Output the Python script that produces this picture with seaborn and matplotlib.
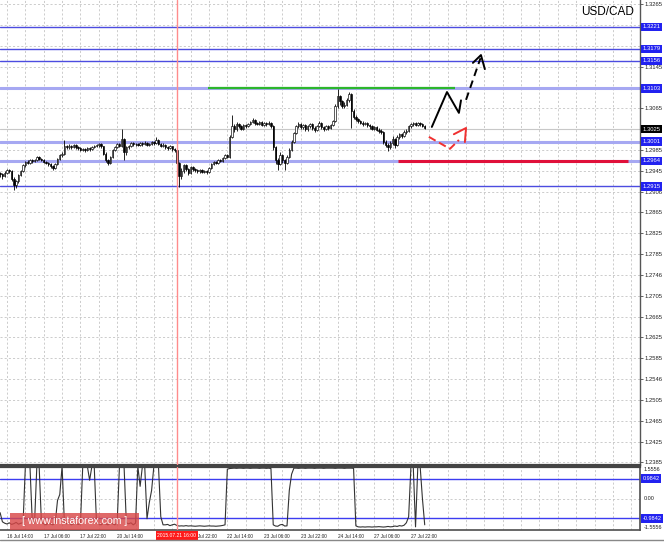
import numpy as np
import matplotlib
matplotlib.use("Agg")
import matplotlib.pyplot as plt
import matplotlib.transforms as mtransforms
from matplotlib.lines import Line2D
from matplotlib.patches import Rectangle
import seaborn as sns

sns.set_theme(style="white")
plt.rcParams['font.family'] = ['Liberation Sans', 'DejaVu Sans']

# USD/CAD H1 quotes, last four digits: 2938 -> 1.2938
first_open = 2940
close = [2938, 2935, 2940, 2946, 2944, 2930, 2918, 2925, 2936, 2945, 2955, 2962, 2960, 2965, 2963, 2966,
         2972, 2968, 2966, 2962, 2960, 2957, 2954, 2950, 2958, 2968, 2975, 2978, 2992, 2990, 2993, 2990,
         2994, 2990, 2988, 2985, 2987, 2984, 2988, 2986, 2990, 2992, 2994, 2996, 2992, 2978, 2965, 2960,
         2972, 2985, 2990, 2996, 2993, 3005, 2980, 2990, 2992, 2998, 2996, 2997, 2995, 2998, 2996, 2999,
         2995, 2997, 3000, 2998, 3003, 2997, 2993, 2995, 2990, 2988, 2992, 2986, 2984, 2960, 2935, 2945,
         2955, 2948, 2940, 2952, 2948, 2946, 2944, 2946, 2943, 2945, 2942, 2950, 2958, 2962, 2960, 2966,
         2964, 2970, 2975, 2972, 3010, 3030, 3025, 3035, 3030, 3026, 3032, 3030, 3034, 3038, 3042, 3036,
         3035, 3038, 3033, 3036, 3034, 3037, 3030, 2990, 2965, 2958, 2975, 2965, 2960, 2972, 2985, 3000,
         3018, 3030, 3035, 3028, 3032, 3025, 3030, 3034, 3027, 3024, 3030, 3036, 3028, 3025, 3030, 3027,
         3032, 3040, 3070, 3088, 3078, 3070, 3072, 3080, 3092, 3060, 3048, 3045, 3040, 3037, 3035, 3036,
         3032, 3030, 3026, 3028, 3024, 3022, 3020, 3000, 2995, 2990, 2998, 3005, 2995, 3010, 3015, 3012,
         3020, 3022, 3030, 3034, 3036, 3033, 3036, 3034, 3031, 3027]
high = [2943, 2940, 2944, 2949, 2948, 2946, 2932, 2928, 2938, 2947, 2957, 2964, 2965, 2967, 2967, 2968,
        2974, 2973, 2970, 2968, 2964, 2962, 2959, 2956, 2960, 2970, 2977, 2981, 3003, 2995, 2996, 2995,
        2996, 2996, 2992, 2990, 2989, 2989, 2990, 2990, 2992, 2994, 2997, 2999, 2998, 2993, 2980, 2967,
        2974, 2987, 2992, 2998, 2999, 3025, 3008, 2993, 2995, 3000, 3000, 2999, 2999, 3000, 3000, 3002,
        3001, 2999, 3002, 3002, 3010, 3005, 2999, 2998, 2997, 2992, 2994, 2993, 2988, 2986, 2962, 2950,
        2958, 2957, 2950, 2954, 2954, 2950, 2948, 2948, 2948, 2947, 2947, 2952, 2960, 2964, 2964, 2968,
        2968, 2972, 2977, 2977, 3013, 3052, 3034, 3038, 3037, 3032, 3035, 3034, 3037, 3040, 3046, 3044,
        3039, 3041, 3040, 3039, 3038, 3040, 3039, 3032, 2993, 2970, 2980, 2978, 2968, 2976, 2988, 3003,
        3020, 3033, 3038, 3037, 3035, 3034, 3033, 3037, 3036, 3030, 3032, 3041, 3038, 3031, 3033, 3032,
        3035, 3043, 3074, 3102, 3090, 3081, 3076, 3084, 3097, 3094, 3063, 3051, 3047, 3043, 3040, 3039,
        3038, 3034, 3032, 3031, 3030, 3027, 3025, 3022, 3003, 2998, 3002, 3012, 3008, 3013, 3018, 3018,
        3023, 3025, 3033, 3037, 3039, 3038, 3038, 3038, 3036, 3033]
low = [2933, 2930, 2933, 2938, 2940, 2926, 2908, 2912, 2922, 2934, 2942, 2952, 2957, 2958, 2960, 2961,
       2964, 2966, 2963, 2959, 2957, 2954, 2951, 2947, 2948, 2956, 2965, 2972, 2976, 2986, 2987, 2987,
       2988, 2987, 2985, 2982, 2982, 2981, 2982, 2983, 2984, 2988, 2990, 2991, 2989, 2975, 2962, 2955,
       2958, 2970, 2982, 2988, 2990, 2990, 2965, 2976, 2987, 2990, 2993, 2993, 2992, 2993, 2993, 2994,
       2992, 2993, 2994, 2995, 2996, 2994, 2990, 2990, 2987, 2985, 2986, 2983, 2980, 2955, 2914, 2930,
       2940, 2944, 2936, 2938, 2945, 2943, 2941, 2941, 2940, 2940, 2939, 2940, 2948, 2955, 2957, 2958,
       2961, 2962, 2967, 2969, 2970, 3008, 3020, 3022, 3027, 3023, 3024, 3027, 3028, 3032, 3036, 3033,
       3032, 3033, 3030, 3031, 3031, 3032, 3027, 2985, 2958, 2946, 2955, 2960, 2947, 2957, 2970, 2982,
       2998, 3015, 3027, 3025, 3025, 3022, 3022, 3027, 3024, 3020, 3021, 3028, 3025, 3022, 3023, 3024,
       3025, 3030, 3038, 3066, 3072, 3065, 3066, 3069, 3077, 3027, 3044, 3041, 3037, 3034, 3031, 3032,
       3029, 3026, 3023, 3023, 3021, 3018, 3016, 2996, 2990, 2982, 2986, 2995, 2988, 2992, 3006, 3008,
       3009, 3016, 3019, 3027, 3031, 3030, 3031, 3031, 3028, 3025]

indicator = [-0.70, -1.15, -1.22, -1.26, -1.20, -1.28, -1.24, -1.18, -1.27, -1.22, -1.20,
             1.60, 1.60, 1.60, -1.10, -1.22, 1.60, 1.60, -1.18,
             -1.25, -1.30, -1.22, -1.26, -1.30, -1.20, -0.10, 0.20, 1.60, -1.20,
             -1.25, -1.20, -1.30, -1.25, -1.22, -1.28, -1.24,
             1.60, 1.60, 1.60, 0.90, 1.60, 1.60, -1.20,
             -1.25, -1.30, -1.22, -1.26, -1.30, -1.22, -1.25, -1.30, -1.20,
             1.60, 1.60, 1.60, -1.20, -1.25, -1.20, -1.30, -1.22,
             1.60, 0.60, 1.60, 1.60, -1.00, -0.20, 0.40, 1.60, 1.60, 1.60, -0.90, -1.30,
             -1.30, -1.28, -1.34, -1.30, -1.27, -1.33, -1.36, -1.35, -1.36, -1.34, -1.36, -1.35,
             -1.36, -1.37, -1.36, -1.35, -1.36, -1.37, -1.36, -1.35, -1.36, -1.36, -1.37, -1.36,
             -1.35, -1.33, -1.30,
             1.45, 1.48, 1.49, 1.50, 1.49, 1.50, 1.50, 1.49, 1.50, 1.50, 1.49, 1.50, 1.50, 1.50,
             1.49, 1.50, 1.50, 1.49, 1.50, 1.48,
             -1.30, -1.36, -1.37, -1.30, -1.28, -1.36, -1.35, 0.40, 1.20, 1.50,
             1.50, 1.49, 1.50, 1.50, 1.49, 1.50, 1.50, 1.50, 1.49, 1.50, 1.50, 1.50, 1.49,
             1.50, 1.50, 1.50, 1.50, 1.49, 1.50, 1.50, 1.50, 1.49, 1.50, 1.50, 1.50, 1.49,
             -1.35, -1.40, -1.41, -1.40, -1.41, -1.40, -1.40, -1.41, -1.40, -1.40, -1.39, -1.40,
             -1.41, -1.40, -1.38, -1.40, -1.39, -1.36, -1.38, -1.34, -1.36, -1.32,
             -1.20, -0.90, 1.60, 1.60, -1.40, 1.60, 1.60, 0.00, -1.30]

# '21 Jul 06:00' sits under the red date marker, so it is left blank
x_tick_bars = [3, 19, 35, 51, 67, 83, 99, 115, 131, 147, 163, 179]
x_tick_labels = ['16 Jul 14:00', '17 Jul 06:00', '17 Jul 22:00', '20 Jul 14:00', '',
                 '21 Jul 22:00', '22 Jul 14:00', '23 Jul 06:00', '23 Jul 22:00', '24 Jul 14:00',
                 '27 Jul 06:00', '27 Jul 22:00']
future_grid_bars = [195, 211, 227, 243, 259, 275]

# scale labels hidden behind the level boxes are left blank
price_tick_labels = ['1.3265', '', '', '1.3145', '', '1.3065', '', '1.2985',
                     '1.2945', '1.2906', '1.2865', '1.2825', '1.2785', '1.2746', '1.2705', '1.2665',
                     '1.2625', '1.2585', '1.2546', '1.2505', '1.2465', '1.2425', '1.2385']

blue_levels = [1.3221, 1.3179, 1.3156, 1.2915]
pale_levels = [1.3103, 1.3001, 1.2964]
bid_price = 1.3025
resistance = (1.3103, 90.5, 198)      # price, from bar, to bar
support = (1.2964, 173.3, 273.5)
event_bar = 77
event_label = '2015.07.21 16:00'
ind_levels = [0.9842, -0.9842]
ind_limit = 1.5556

# forecast sketch (bar, price)
bull_path = [(188.1, 1.3029), (194.7, 1.3096), (199.9, 1.3056), (200.8, 1.3080)]
bull_dash = [(203.0, 1.3081), (209.3, 1.3161)]
bull_head = [(206.0, 1.3152), (209.5, 1.3167), (211.2, 1.3140)]
bear_path = [(186.8, 1.3010), (196.0, 1.2987), (199.9, 1.3004)]
bear_head = [(197.7, 1.3015), (203.0, 1.3027), (202.5, 1.3000)]

# ---------------------------------------------------------------
c = 1 + np.array(close) / 1e4
o = 1 + np.array([first_open] + close[:-1]) / 1e4
hi = 1 + np.array(high) / 1e4
lo = 1 + np.array(low) / 1e4
idx = np.arange(len(c))
up = c >= o

fig = plt.figure(figsize=(6.64, 5.42), dpi=100)
ax = fig.add_axes([0, 1 - 465 / 542, 640 / 664, 465 / 542])
ax2 = fig.add_axes([0, 12 / 542, 640 / 664, 63 / 542])

xmin, xmax = -0.05, 278.8
grid_kw = dict(color='#c4c4c4', lw=0.6, ls=(0, (2.5, 2.5)))

# main panel
ax.set_xlim(xmin, xmax)
ax.set_ylim(1.2380, 1.32727)
for b in x_tick_bars + future_grid_bars:
    for k in (0, 8):
        ax.axvline(b + k, zorder=0, **grid_kw)
        ax2.axvline(b + k, zorder=0, **grid_kw)
price_ticks = np.linspace(1.3265, 1.2385, len(price_tick_labels))
for p in price_ticks:
    ax.axhline(p, zorder=0, **grid_kw)

for p in blue_levels:
    ax.axhline(p, color='#4c4ce0', lw=1.0, zorder=1)
for p in pale_levels:
    ax.axhline(p, color='#a6a8f2', lw=2.2, zorder=1)
ax.axhline(bid_price, color='#c8c8c8', lw=0.8, zorder=1)
ax.hlines(resistance[0], resistance[1], resistance[2], color='#2db52d', lw=1.6, zorder=2)
ax.hlines(support[0], support[1], support[2], color='#e0103a', lw=2.2, zorder=2)

ax.vlines(idx, lo, hi, color='black', lw=0.6, zorder=3)
body = np.maximum(np.abs(c - o), 0.00004)
ax.bar(idx[up], body[up], bottom=o[up], width=0.62, color='white',
       edgecolor='black', lw=0.45, zorder=4)
ax.bar(idx[~up], body[~up], bottom=c[~up], width=0.62, color='black',
       edgecolor='black', lw=0.45, zorder=4)

for a in (ax, ax2):
    a.axvline(event_bar, color='#ff8c8c', lw=1.0, zorder=5)

bx, by = zip(*bull_path)
ax.plot(bx, by, color='black', lw=1.4, zorder=6)
bx, by = zip(*bull_dash)
ax.plot(bx, by, color='black', lw=1.4, ls=(0, (4, 2.5)), zorder=6)
bx, by = zip(*bull_head)
ax.plot(bx, by, color='black', lw=1.4, zorder=6)
bx, by = zip(*bear_path)
ax.plot(bx, by, color='#f03030', lw=1.4, ls=(0, (4, 2)), zorder=6)
bx, by = zip(*bear_head)
ax.plot(bx, by, color='#f03030', lw=1.4, zorder=6)

ax.yaxis.tick_right()
ax.set_yticks(price_ticks)
ax.set_yticklabels(price_tick_labels)
ax.tick_params(axis='y', direction='out', length=2, width=0.5, pad=1.5,
               labelsize=4.2, colors='#222222')
ax.set_xticks([])
for s in ('left', 'top'):
    ax.spines[s].set_visible(False)
ax.spines['right'].set_color('#555555')
ax.spines['right'].set_linewidth(1.0)
ax.spines['bottom'].set_color('#444444')
ax.spines['bottom'].set_linewidth(1.6)

tr = mtransforms.blended_transform_factory(ax.transAxes, ax.transData)
for p in blue_levels + pale_levels:
    ax.text(1.004, p, f'{p:.4f}', transform=tr, ha='left', va='center', fontsize=4.2,
            color='white', clip_on=False, zorder=10,
            bbox=dict(boxstyle='square,pad=0.3', fc='#2222f0', ec='none'))
ax.text(1.004, bid_price, f'{bid_price:.4f}', transform=tr, ha='left', va='center', fontsize=4.2,
        color='white', clip_on=False, zorder=10,
        bbox=dict(boxstyle='square,pad=0.3', fc='black', ec='none'))
ax.text(0.99, 0.974, 'USD/CAD', transform=ax.transAxes, ha='right', va='center',
        fontsize=8.5, color='black')

# indicator panel
sns.lineplot(x=np.arange(len(indicator)), y=indicator, ax=ax2, color='#333333', lw=0.8)
ax2.set_xlim(xmin, xmax)
ax2.set_ylim(-ind_limit, ind_limit)
ax2.axhline(0, zorder=0, **grid_kw)
for v in ind_levels:
    ax2.axhline(v, color='#3c3cf0', lw=1.0, zorder=1)
ax2.set_yticks([])
ax2.set_xticks(x_tick_bars)
ax2.set_xticklabels(x_tick_labels, ha='left')
ax2.tick_params(axis='x', direction='out', length=2, width=0.5, pad=1,
                labelsize=3.4, colors='#222222')
ax2.spines['left'].set_visible(False)
for s in ('top', 'right', 'bottom'):
    ax2.spines[s].set_color('#555555')
ax2.spines['top'].set_linewidth(1.6)
ax2.spines['top'].set_color('#444444')

tr2 = mtransforms.blended_transform_factory(ax2.transAxes, ax2.transData)
ax2.text(1.006, ind_limit, f'{ind_limit:.4f}', transform=tr2, ha='left', va='top',
         fontsize=4.0, color='#222222', clip_on=False)
ax2.text(1.006, 0, '0.00', transform=tr2, ha='left', va='center',
         fontsize=4.0, color='#222222', clip_on=False)
ax2.text(1.006, -ind_limit, f'{-ind_limit:.4f}', transform=tr2, ha='left', va='bottom',
         fontsize=4.0, color='#222222', clip_on=False)
for v in ind_levels:
    ax2.text(1.004, v, f'{v:.4f}', transform=tr2, ha='left', va='center', fontsize=4.0,
             color='white', clip_on=False, zorder=10,
             bbox=dict(boxstyle='square,pad=0.3', fc='#2222f0', ec='none'))

tr3 = mtransforms.blended_transform_factory(ax2.transData, ax2.transAxes)
ax2.text(event_bar, -0.085, event_label, transform=tr3, ha='center', va='center',
         fontsize=3.6, color='white', clip_on=False, zorder=10,
         bbox=dict(boxstyle='square,pad=0.35', fc='#ff1a1a', ec='none'))

# watermark and frame
fig.add_artist(Rectangle((10 / 664, 12 / 542), 129 / 664, 17 / 542, transform=fig.transFigure,
                         fc='#d84848', ec='none', alpha=0.82, zorder=20))
fig.text(74.5 / 664, 20.5 / 542, '[ www.instaforex.com ]', ha='center', va='center',
         fontsize=7.6, color='white', zorder=21)
fig.add_artist(Line2D([0, 1], [2 / 542, 2 / 542], color='#888888', lw=1.0))

fig.savefig('out.png', dpi=100)
